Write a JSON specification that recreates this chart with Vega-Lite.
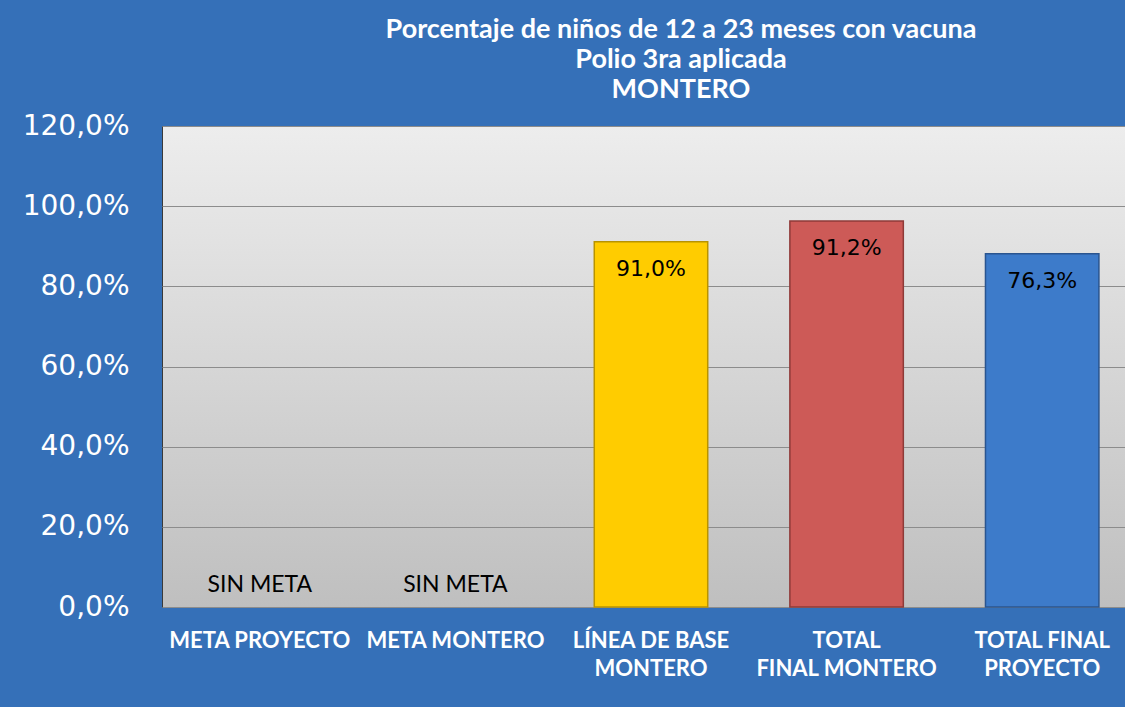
{
  "$schema": "https://vega.github.io/schema/vega-lite/v6.json",
  "width": 978,
  "height": 481,
  "autosize": "none",
  "padding": {"left": 162, "top": 126, "right": 0, "bottom": 100},
  "background": "#3570b8",
  "title": {
    "text": ["Porcentaje de niños de 12 a 23 meses con vacuna", "Polio 3ra aplicada", "MONTERO"],
    "anchor": "middle",
    "dx": 30,
    "offset": 8,
    "font": "Lato",
    "fontSize": 27,
    "fontWeight": "bold",
    "color": "white",
    "lineHeight": 30
  },
  "data": {
    "values": [
      {"cat": "META PROYECTO", "value": 0, "label": "SIN META"},
      {"cat": "META MONTERO", "value": 0, "label": "SIN META"},
      {"cat": "LÍNEA DE BASE MONTERO", "value": 91.1, "label": "91,0%"},
      {"cat": "TOTAL FINAL MONTERO", "value": 96.3, "label": "91,2%"},
      {"cat": "TOTAL FINAL PROYECTO", "value": 88.1, "label": "76,3%"}
    ]
  },
  "encoding": {
    "x": {
      "field": "cat",
      "type": "nominal",
      "sort": null,
      "scale": {
        "domain": ["META PROYECTO", "META MONTERO", "LÍNEA DE BASE MONTERO", "TOTAL FINAL MONTERO", "TOTAL FINAL PROYECTO"],
        "paddingInner": 0.42,
        "paddingOuter": 0.21
      },
      "axis": {
        "title": null,
        "labelAngle": 0,
        "labelFont": "Lato",
        "labelFontSize": 22,
        "labelFontWeight": "bold",
        "labelColor": "white",
        "labelPadding": 23,
        "labelBaseline": "top",
        "labelLineHeight": 28,
        "labelLimit": 0,
        "labelOverlap": false,
        "ticks": false,
        "domain": false,
        "labelExpr": "datum.value == 'LÍNEA DE BASE MONTERO' ? ['LÍNEA DE BASE', 'MONTERO'] : datum.value == 'TOTAL FINAL MONTERO' ? ['TOTAL', 'FINAL MONTERO'] : datum.value == 'TOTAL FINAL PROYECTO' ? ['TOTAL FINAL', 'PROYECTO'] : datum.value"
      }
    },
    "y": {
      "field": "value",
      "type": "quantitative",
      "scale": {"domain": [0, 120]},
      "axis": {
        "title": null,
        "values": [0, 20, 40, 60, 80, 100, 120],
        "labelExpr": "replace(format(datum.value, '.1f'), '.', ',') + '%'",
        "labelFont": "DejaVu Sans",
        "labelFontSize": 28,
        "labelColor": "white",
        "labelPadding": 33,
        "ticks": false,
        "domain": false,
        "grid": true,
        "gridColor": "#8c8c8c",
        "gridWidth": 1
      }
    }
  },
  "layer": [
    {
      "transform": [{"filter": "datum.value > 0"}],
      "mark": {"type": "bar", "strokeWidth": 1.5},
      "encoding": {
        "color": {
          "field": "cat",
          "type": "nominal",
          "scale": {
            "domain": ["LÍNEA DE BASE MONTERO", "TOTAL FINAL MONTERO", "TOTAL FINAL PROYECTO"],
            "range": ["#ffcc00", "#cd5a57", "#3d7bca"]
          },
          "legend": null
        },
        "stroke": {
          "field": "cat",
          "type": "nominal",
          "scale": {
            "domain": ["LÍNEA DE BASE MONTERO", "TOTAL FINAL MONTERO", "TOTAL FINAL PROYECTO"],
            "range": ["#b89300", "#8f3a38", "#2a5590"]
          },
          "legend": null
        }
      }
    },
    {
      "transform": [{"filter": "datum.value > 0"}],
      "mark": {"type": "text", "baseline": "middle", "dy": 27, "font": "DejaVu Sans", "fontSize": 22, "color": "black"},
      "encoding": {"text": {"field": "label"}}
    },
    {
      "transform": [{"filter": "datum.value == 0"}],
      "mark": {"type": "text", "baseline": "middle", "dy": -22, "font": "Lato", "fontSize": 23, "color": "black"},
      "encoding": {"text": {"field": "label"}}
    }
  ],
  "config": {
    "view": {
      "fill": {
        "gradient": "linear",
        "x1": 0, "y1": 0, "x2": 0, "y2": 1,
        "stops": [{"offset": 0, "color": "#ededed"}, {"offset": 1, "color": "#bfbfbf"}]
      },
      "stroke": "#3a3a3a",
      "strokeWidth": 1
    }
  }
}
